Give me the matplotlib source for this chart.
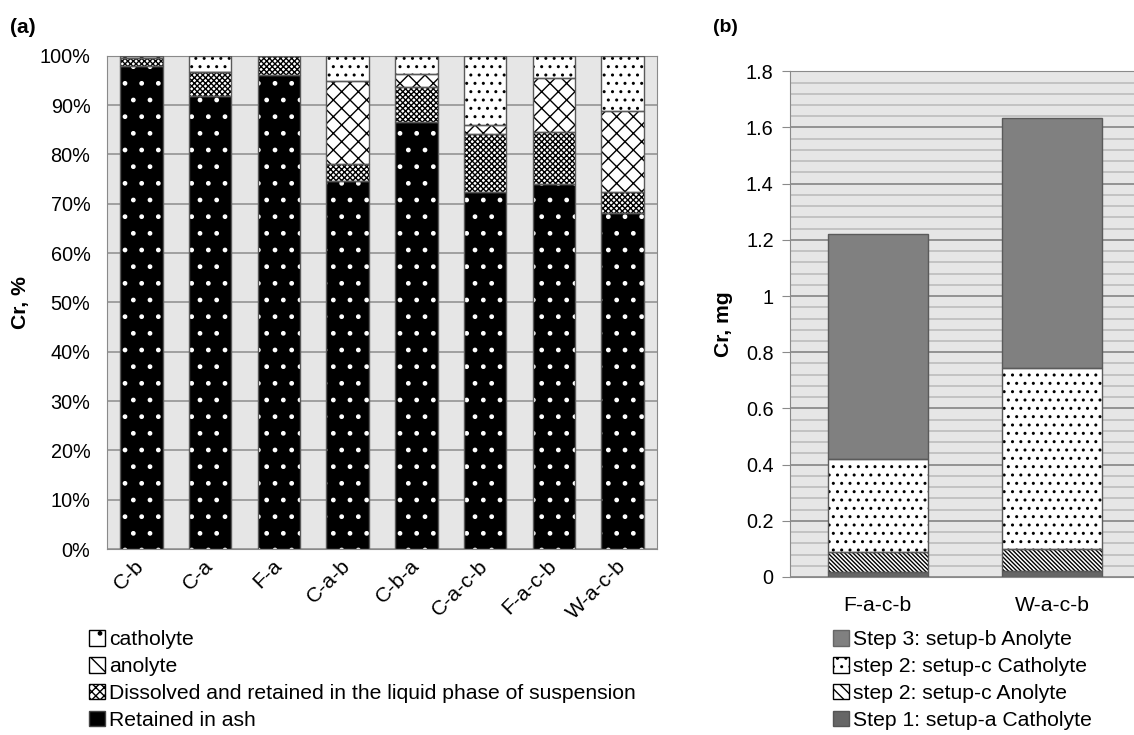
import matplotlib.pyplot as plt
import numpy as np
from matplotlib.patches import Patch
from matplotlib.ticker import MultipleLocator, PercentFormatter

plt.rcParams['font.family'] = ['Liberation Sans', 'DejaVu Sans']
plt.rcParams['hatch.linewidth'] = 1.0

# (a) distribution of Cr, %
samples = ['C-b', 'C-a', 'F-a', 'C-a-b', 'C-b-a', 'C-a-c-b', 'F-a-c-b', 'W-a-c-b']
ash = [97.9, 91.9, 96.1, 74.6, 86.6, 72.4, 74.0, 68.2]
dissolved = [1.6, 4.9, 3.9, 3.5, 7.0, 11.7, 10.5, 4.1]
anolyte = [0.5, 0.0, 0.0, 16.9, 2.7, 1.8, 11.0, 16.6]
catholyte = [0.0, 3.2, 0.0, 5.0, 3.7, 14.1, 4.5, 11.1]

# (b) Cr mass, mg
runs = ['F-a-c-b', 'W-a-c-b']
step1_cath = [0.018, 0.020]
step2_an = [0.070, 0.079]
step2_cath = [0.332, 0.646]
step3_an = [0.800, 0.890]

BG = '#e6e6e6'
EDGE = '#5a5a5a'
FS = 15.2
TFS = 14.3

fig = plt.figure(figsize=(11.34, 7.35), dpi=100)

# ---------- (a) ----------
ax1 = fig.add_axes([0.0944, 0.253, 0.485, 0.671])
ax1.set_facecolor(BG)
x = np.arange(len(samples))
w = 0.62

# (values, face, hatch colour, hatch)
layers_a = [
    (ash, 'black', 'white', '.'),
    (dissolved, 'white', 'black', 'xxxxxx'),
    (anolyte, 'white', 'black', 'xx'),
    (catholyte, 'white', 'black', '..'),
]
bottom = np.zeros(len(samples))
for vals, face, hc, hatch in layers_a:
    vals = np.array(vals)
    ax1.bar(x, vals, w, bottom=bottom, color=face, edgecolor=hc, hatch=hatch,
            linewidth=0, zorder=2)
    ax1.bar(x, vals, w, bottom=bottom, fill=False, edgecolor=EDGE,
            linewidth=1, zorder=3)
    bottom += vals

ax1.set_xlim(-0.5, len(samples) - 0.5)
ax1.set_ylim(0, 100)
ax1.yaxis.set_major_locator(MultipleLocator(10))
ax1.yaxis.set_major_formatter(PercentFormatter(decimals=0))
ax1.grid(axis='y', color='#9a9a9a', linewidth=1.3, zorder=0)
ax1.set_axisbelow(True)
for s in ax1.spines.values():
    s.set_color('#8a8a8a')
ax1.tick_params(axis='y', length=0, pad=12, labelsize=TFS)
ax1.tick_params(axis='x', length=0, pad=10, labelsize=FS)
ax1.set_xticks(x)
ax1.set_xticklabels(samples, rotation=45, ha='right', va='center',
                    rotation_mode='anchor')
ax1.set_ylabel('Cr, %', fontsize=FS, fontweight='bold')
ax1.yaxis.set_label_coords(-0.14, 0.5)

leg_a = [
    Patch(facecolor='white', edgecolor='black', hatch='.', label='catholyte'),
    Patch(facecolor='white', edgecolor='black', hatch='\\\\', label='anolyte'),
    Patch(facecolor='white', edgecolor='black', hatch='xxxx',
          label='Dissolved and retained in the liquid phase of suspension'),
    Patch(facecolor='black', edgecolor='#444444', label='Retained in ash'),
]
fig.legend(handles=leg_a, loc='upper left', bbox_to_anchor=(0.069, 0.157),
           bbox_transform=fig.transFigure, frameon=False, fontsize=FS,
           handlelength=0.75, handleheight=0.75, handletextpad=0.2,
           labelspacing=0.37, borderpad=0)

# ---------- (b) ----------
ax2 = fig.add_axes([0.697, 0.215, 0.308, 0.688])
ax2.set_facecolor(BG)
xr = np.arange(len(runs))
wr = 0.571
layers_b = [
    (step1_cath, '#666666', '#666666', None),
    (step2_an, 'white', 'black', '\\' * 8),
    (step2_cath, 'white', 'black', '..'),
    (step3_an, '#808080', '#808080', None),
]
bottom = np.zeros(len(runs))
for vals, face, hc, hatch in layers_b:
    vals = np.array(vals)
    ax2.bar(xr, vals, wr, bottom=bottom, color=face, edgecolor=hc, hatch=hatch,
            linewidth=0, zorder=2)
    ax2.bar(xr, vals, wr, bottom=bottom, fill=False, edgecolor=EDGE,
            linewidth=1, zorder=3)
    bottom += vals

ax2.set_xlim(-0.5, len(runs) - 0.5)
ax2.set_ylim(0, 1.8)
ax2.yaxis.set_major_locator(MultipleLocator(0.2))
ax2.yaxis.set_minor_locator(MultipleLocator(0.04))
ax2.yaxis.set_major_formatter(plt.FuncFormatter(
    lambda v, p: ('%.1f' % v).rstrip('0').rstrip('.') if v else '0'))
ax2.grid(axis='y', which='major', color='#8c8c8c', linewidth=1.3, zorder=0)
ax2.grid(axis='y', which='minor', color='#c0c0c0', linewidth=1.3, zorder=0)
ax2.set_axisbelow(True)
for s in ax2.spines.values():
    s.set_color('#8a8a8a')
ax2.tick_params(axis='y', which='major', length=6, color='#8a8a8a', pad=6, labelsize=TFS)
ax2.tick_params(axis='y', which='minor', length=0)
ax2.tick_params(axis='x', length=0, pad=14, labelsize=FS)
ax2.set_xticks(xr)
ax2.set_xticklabels(runs)
ax2.set_ylabel('Cr, mg', fontsize=FS, fontweight='bold')
ax2.yaxis.set_label_coords(-0.163, 0.5)

leg_b = [
    Patch(facecolor='#808080', edgecolor='#666666', label='Step 3: setup-b Anolyte'),
    Patch(facecolor='white', edgecolor='black', hatch='..', label='step 2: setup-c Catholyte'),
    Patch(facecolor='white', edgecolor='black', hatch='\\\\\\', label='step 2: setup-c Anolyte'),
    Patch(facecolor='#666666', edgecolor='#555555', label='Step 1: setup-a Catholyte'),
]
fig.legend(handles=leg_b, loc='upper left', bbox_to_anchor=(0.725, 0.157),
           bbox_transform=fig.transFigure, frameon=False, fontsize=FS,
           handlelength=0.75, handleheight=0.75, handletextpad=0.2,
           labelspacing=0.37, borderpad=0)

fig.text(0.009, 0.963, '(a)', fontsize=15, fontweight='bold', va='center')
fig.text(0.629, 0.963, '(b)', fontsize=14, fontweight='bold', va='center')

fig.savefig('out.png', dpi=100)
